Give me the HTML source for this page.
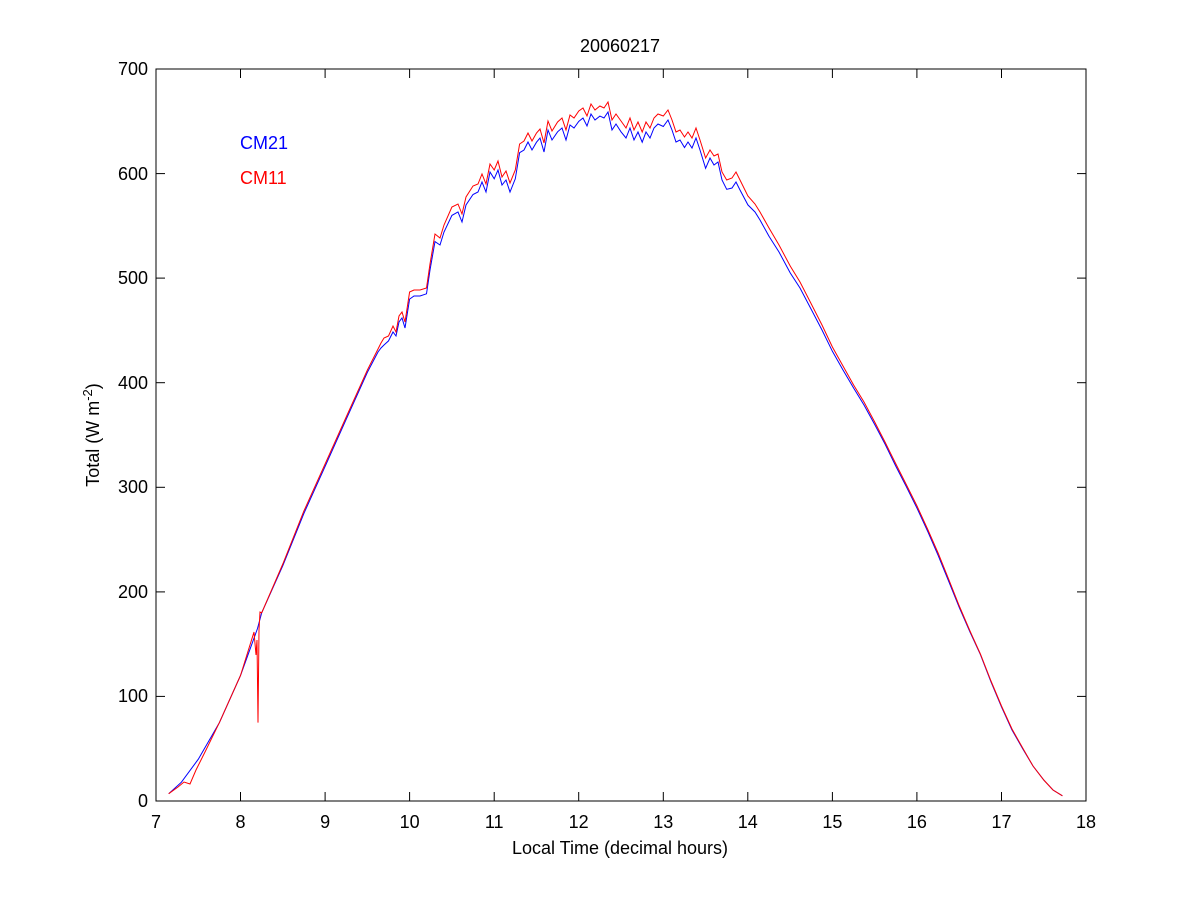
<!DOCTYPE html>
<html><head><meta charset="utf-8"><style>
body{margin:0;background:#fff;}
svg text{font-family:"Liberation Sans",Arial,sans-serif;font-size:18px;fill:#000;}
</style></head><body>
<svg width="1200" height="900" viewBox="0 0 1200 900" xmlns="http://www.w3.org/2000/svg">
<rect width="1200" height="900" fill="#fff"/>
<rect x="156" y="69" width="930" height="732" fill="#fff" stroke="#000" stroke-width="1"/>
<g stroke="#000" stroke-width="1">
<line x1="156" y1="801" x2="156" y2="792"/><line x1="156" y1="69" x2="156" y2="78"/>
<line x1="240.5" y1="801" x2="240.5" y2="792"/><line x1="240.5" y1="69" x2="240.5" y2="78"/>
<line x1="325.1" y1="801" x2="325.1" y2="792"/><line x1="325.1" y1="69" x2="325.1" y2="78"/>
<line x1="409.6" y1="801" x2="409.6" y2="792"/><line x1="409.6" y1="69" x2="409.6" y2="78"/>
<line x1="494.2" y1="801" x2="494.2" y2="792"/><line x1="494.2" y1="69" x2="494.2" y2="78"/>
<line x1="578.7" y1="801" x2="578.7" y2="792"/><line x1="578.7" y1="69" x2="578.7" y2="78"/>
<line x1="663.3" y1="801" x2="663.3" y2="792"/><line x1="663.3" y1="69" x2="663.3" y2="78"/>
<line x1="747.8" y1="801" x2="747.8" y2="792"/><line x1="747.8" y1="69" x2="747.8" y2="78"/>
<line x1="832.4" y1="801" x2="832.4" y2="792"/><line x1="832.4" y1="69" x2="832.4" y2="78"/>
<line x1="916.9" y1="801" x2="916.9" y2="792"/><line x1="916.9" y1="69" x2="916.9" y2="78"/>
<line x1="1001.5" y1="801" x2="1001.5" y2="792"/><line x1="1001.5" y1="69" x2="1001.5" y2="78"/>
<line x1="156" y1="696.4" x2="165" y2="696.4"/><line x1="1086" y1="696.4" x2="1077" y2="696.4"/>
<line x1="156" y1="591.9" x2="165" y2="591.9"/><line x1="1086" y1="591.9" x2="1077" y2="591.9"/>
<line x1="156" y1="487.3" x2="165" y2="487.3"/><line x1="1086" y1="487.3" x2="1077" y2="487.3"/>
<line x1="156" y1="382.7" x2="165" y2="382.7"/><line x1="1086" y1="382.7" x2="1077" y2="382.7"/>
<line x1="156" y1="278.1" x2="165" y2="278.1"/><line x1="1086" y1="278.1" x2="1077" y2="278.1"/>
<line x1="156" y1="173.6" x2="165" y2="173.6"/><line x1="1086" y1="173.6" x2="1077" y2="173.6"/>
</g>
<g text-anchor="middle">
<text x="156" y="828">7</text><text x="240.5" y="828">8</text><text x="325.1" y="828">9</text>
<text x="409.6" y="828">10</text><text x="494.2" y="828">11</text><text x="578.7" y="828">12</text>
<text x="663.3" y="828">13</text><text x="747.8" y="828">14</text><text x="832.4" y="828">15</text>
<text x="916.9" y="828">16</text><text x="1001.5" y="828">17</text><text x="1086" y="828">18</text>
<text x="620" y="854">Local Time (decimal hours)</text>
<text x="620" y="52">20060217</text>
</g>
<g text-anchor="end">
<text x="148" y="807">0</text><text x="148" y="702">100</text><text x="148" y="598">200</text>
<text x="148" y="493">300</text><text x="148" y="389">400</text><text x="148" y="284">500</text>
<text x="148" y="180">600</text><text x="148" y="75">700</text>
</g>
<text transform="translate(99,435) rotate(-90)" text-anchor="middle">Total (W m<tspan dy="-7" font-size="13">-2</tspan><tspan dy="7">)</tspan></text>
<text x="240" y="149" style="fill:#0000ff">CM21</text>
<text x="240" y="184" style="fill:#ff0000">CM11</text>
<polyline fill="none" stroke="#0000ff" stroke-width="1" points="168.7,793.7 181.4,782.2 198.3,759.2 219.4,722.6 240.5,675.5 257.5,628.5 261.7,612.8 282.8,565.7 303.9,513.4 325.1,466.4 346.2,419.3 367.4,372.3 378,352 381,348 384,345 388.5,340.9 393,332 396,336 399,322 402,318 405,328 409.6,299.1 414,296 420,296 426.5,293.8 430,270 435,241.6 440,245 444,232 451.9,215.4 458,212 462,222 466,205 473,194.5 478,192 482,182 486,192 490,172 494.2,178.8 498,170 502,185 506,180 510,192 515.3,178.8 519.6,152.7 524,150 528,142 532,150 536.5,142.2 540,138 544,152 548,130 552,140 557.6,131.8 562,128 566,140 570,125 574,128 578.8,121.3 583,118 587,126 591,114 595,120 599.9,116.1 604,118 608,112 612,130 616,124 621,131.8 626,138 630,128 634,140 638,132 642.2,142.2 646,132 650,138 654,128 658,124 663.3,126.5 668,120 672,130 676,142 680,140 684.5,147.5 688,142 692,148 696,138 700,150 705.6,168.3 710,158 714,165 718,162 722,180 726.7,189.3 732,188 736,182 740,190 747.9,204.9 755,212 760,220 769,236.3 779,252 790.2,272.9 800,288 811.3,309.5 822,330 832.4,351.3 843,370 853.6,388 864,405 874.7,424.5 885,444 895.9,466.4 906,486 917,508.2 928,532 938.1,555.3 949,582 959.3,607.5 970,632 980.4,654.6 991,682 1001.5,706.9 1012,730 1022.7,748.7 1033,766 1043.8,780.1 1053,790 1062.4,795.8"/>
<polyline fill="none" stroke="#ff0000" stroke-width="1" points="168.7,793.7 178,787 184,782 190,784 196,770 205,752 219.4,722.6 240.5,675.5 254,632 256,655 257,640 258,722.6 259,630 260,612 261.7,612.8 282.8,564 303.9,511 325.1,464 346.2,417 367.4,370 378,349 381,343 384,338 388.5,336 393,326 396,332 399,316 402,312 405,322 409.6,292 414,290 420,290 426.5,288 430,264 435,234 440,238 444,225 451.9,207 458,204 462,214 466,197 473,186 478,184 482,174 486,184 490,164 494.2,170 498,161 502,177 506,171 510,183 515.3,170 519.6,144 524,141 528,133 532,141 536.5,133 540,129 544,143 548,121 552,131 557.6,122 562,118 566,130 570,115 574,118 578.8,111 583,108 587,116 591,104 595,110 599.9,106 604,108 608,102 612,120 616,114 621,121 626,128 630,118 634,130 638,122 642.2,132 646,122 650,128 654,118 658,114 663.3,116 668,110 672,120 676,132 680,130 684.5,137 688,132 692,138 696,128 700,140 705.6,158 710,150 714,156 718,154 722,172 726.7,180 732,178 736,172 740,180 747.9,196 755,204 760,212 769,228 779,245 790.2,266 800,282 811.3,304 822,325 832.4,347 843,366 853.6,385 864,402 874.7,422 885,442 895.9,464 906,484 917,506 928,530 938.1,553 949,580 959.3,606 970,631 980.4,654 991,681 1001.5,706 1012,729 1022.7,748 1033,766 1043.8,780 1053,790 1062.4,795.8"/>
</svg>
</body></html>
